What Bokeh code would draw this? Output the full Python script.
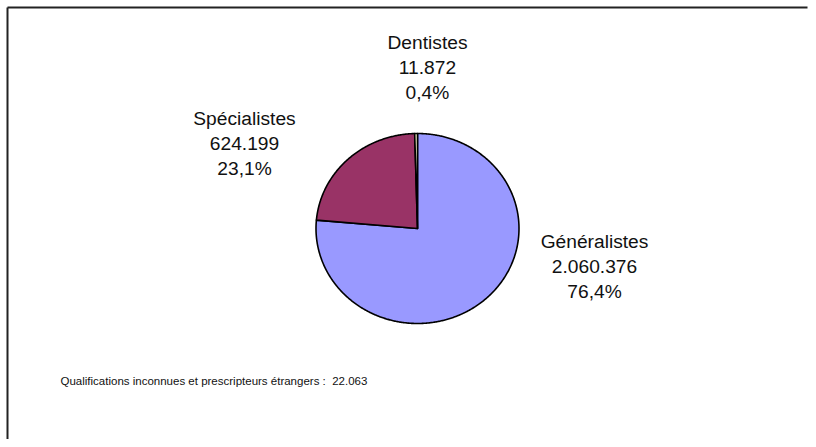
import numpy as np
from bokeh.plotting import figure
from bokeh.models import Range1d, ColumnDataSource
from bokeh.core.properties import value
from bokeh.embed import file_html
from bokeh.resources import INLINE

# ---- data ----
categories = ["Généralistes", "Spécialistes", "Dentistes"]
counts = [2060376, 624199, 11872]
colors = ["#9999FF", "#993366", "#FFFFCC"]
footnote_label = "Qualifications inconnues et prescripteurs étrangers :"
footnote_value = 22063

# ---- layout (picture pixel coordinates) ----
W, H = 808, 439
CX, CY, RX, RY = 417.0, 228.0, 101.5, 95.0
label_pos = {"Généralistes": (594, 266), "Spécialistes": (244, 143), "Dentistes": (427, 67)}
FONT = "Liberation Sans"

p = figure(width=W, height=H, output_backend="svg", toolbar_location=None,
           x_range=Range1d(0, W), y_range=Range1d(H, 0),
           min_border=0, outline_line_color=None)
p.axis.visible = False
p.grid.visible = False
p.background_fill_color = "white"
p.border_fill_color = "white"

# frame border (top and left only are visible in the reference)
p.segment(x0=[7, 7], y0=[7, 7], x1=[W - 1, 7], y1=[7, H],
          line_color="#222222", line_width=2)

total = float(sum(counts))
fracs = np.array(counts) / total
bounds = np.concatenate([[0.0], np.cumsum(fracs)]) * 2 * np.pi  # clockwise from top
xs, ys = [], []
for a0, a1 in zip(bounds[:-1], bounds[1:]):
    n = max(3, int(np.degrees(a1 - a0) * 2))
    th = np.linspace(a0, a1, n)
    xs.append(np.concatenate([[CX], CX + RX * np.sin(th)]).tolist())
    ys.append(np.concatenate([[CY], CY - RY * np.cos(th)]).tolist())

src = ColumnDataSource(dict(xs=xs, ys=ys, color=colors))
p.patches("xs", "ys", source=src, fill_color="color", line_color="black",
          line_width=1.6, line_join="round")

def fmt_int(v):
    return f"{v:,}".replace(",", ".")

texts, lx, ly = [], [], []
for c, v, f in zip(categories, counts, fracs):
    texts.append(f"{c}\n{fmt_int(v)}\n" + f"{f * 100:.1f}".replace(".", ",") + "%")
    lx.append(label_pos[c][0])
    ly.append(label_pos[c][1])

p.text(x=lx, y=ly, text=texts, text_font=value(FONT), text_font_size="19.2px",
       text_align="center", text_baseline="middle", text_color="#111111",
       text_line_height=1.18)

p.text(x=[60], y=[380], text=[f"{footnote_label}\u00a0\u00a0{fmt_int(footnote_value)}"],
       text_font=value(FONT), text_font_size="11.5px", text_align="left",
       text_baseline="middle", text_color="#111111")

open("out.html", "w").write(file_html(p, INLINE))
